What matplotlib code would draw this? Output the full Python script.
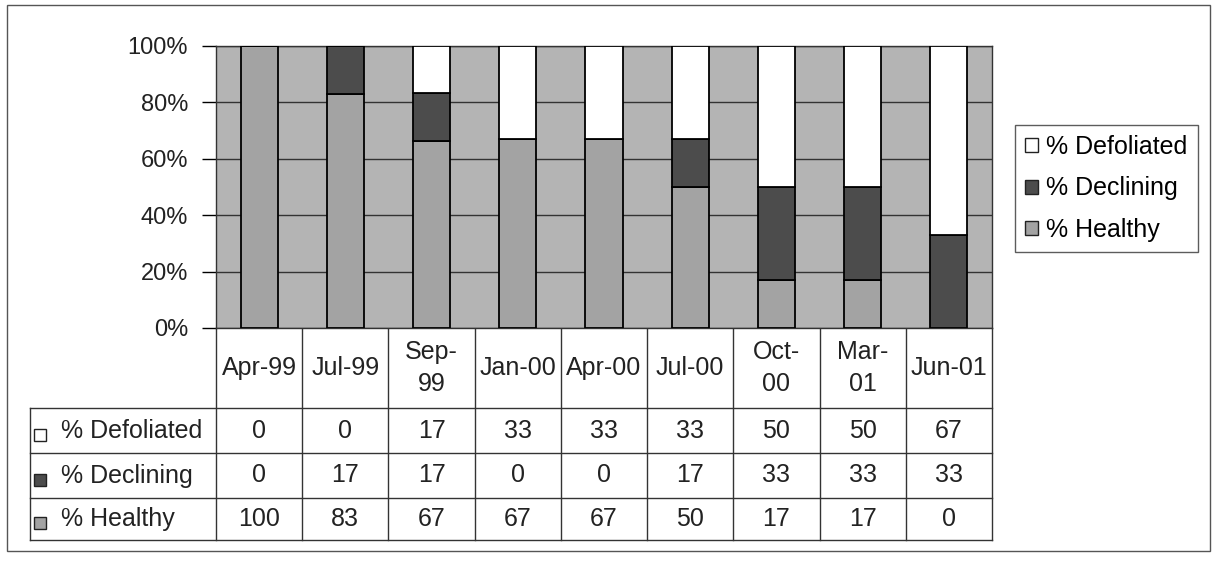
import matplotlib.pyplot as plt
from matplotlib.patches import Rectangle, Patch

plt.rcParams['font.family'] = ['Liberation Sans', 'DejaVu Sans']

dates = ['Apr-99', 'Jul-99', 'Sep-\n99', 'Jan-00', 'Apr-00', 'Jul-00', 'Oct-\n00', 'Mar-\n01', 'Jun-01']
defoliated = [0, 0, 17, 33, 33, 33, 50, 50, 67]
declining = [0, 17, 17, 0, 0, 17, 33, 33, 33]
healthy = [100, 83, 67, 67, 67, 50, 17, 17, 0]
series_names = ['% Defoliated', '% Declining', '% Healthy']
yticks = [0, 20, 40, 60, 80, 100]

c_bg = '#b4b4b4'
c_healthy = '#a3a3a3'
c_declining = '#4c4c4c'
c_defol = 'white'
fs = 18
fs_tick = 17

W, H = 1215, 563
fig = plt.figure(figsize=(W / 100, H / 100), dpi=100)

# overlay axes in image pixel coords (y down)
ax_t = fig.add_axes([0, 0, 1, 1])
ax_t.set_xlim(0, W)
ax_t.set_ylim(H, 0)
ax_t.axis('off')

# plot area
ax = fig.add_axes([216 / W, (H - 328) / H, (992 - 216) / W, (328 - 46) / H])
ax.set_facecolor(c_bg)
n = len(dates)
x = list(range(n))
tot = [a + b + c for a, b, c in zip(healthy, declining, defoliated)]
h_pct = [100 * v / t for v, t in zip(healthy, tot)]
d_pct = [100 * v / t for v, t in zip(declining, tot)]
f_pct = [100 * v / t for v, t in zip(defoliated, tot)]
bot2 = h_pct
bot3 = [a + b for a, b in zip(h_pct, d_pct)]
bw = 0.43
ax.bar(x, h_pct, bw, color=c_healthy, edgecolor='black', lw=1.3, zorder=3)
ax.bar(x, d_pct, bw, bottom=bot2, color=c_declining, edgecolor='black', lw=1.3, zorder=3)
ax.bar(x, f_pct, bw, bottom=bot3, color=c_defol, edgecolor='black', lw=1.3, zorder=3)
ax.set_xlim(-0.5, n - 0.5)
ax.set_ylim(0, 100)
ax.set_yticks(yticks)
ax.set_yticklabels([f'{t}%' for t in yticks], fontsize=fs_tick, color='#222222')
ax.tick_params(axis='y', length=10, width=1, pad=10)
ax.set_xticks([])
ax.yaxis.grid(True, color='#333333', lw=1)
ax.set_axisbelow(True)
for s in ax.spines.values():
    s.set_color('#333333')
    s.set_linewidth(1)

# table under the plot
def px(xd):
    return ax.transData.transform((xd, 0))[0]

y_axis_bot = 328
rows_y = [408, 453, 498, 540]
x_left_lab = 30
x_right = px(n - 0.5)
lc = '#333333'
for k in range(n + 1):
    xx = px(k - 0.5)
    ax_t.plot([xx, xx], [y_axis_bot, rows_y[-1]], color=lc, lw=1)
ax_t.plot([x_left_lab, x_left_lab], [rows_y[0], rows_y[-1]], color=lc, lw=1)
for yy in rows_y:
    ax_t.plot([x_left_lab, x_right], [yy, yy], color=lc, lw=1)

for i, d in enumerate(dates):
    ax_t.text(px(i), (y_axis_bot + rows_y[0]) / 2, d, ha='center', va='center',
              fontsize=fs, color='#222222', linespacing=1.4)

table_vals = [defoliated, declining, healthy]
colors = [c_defol, c_declining, c_healthy]
for r, (name, vals, col) in enumerate(zip(series_names, table_vals, colors)):
    yc = (rows_y[r] + rows_y[r + 1]) / 2
    ax_t.add_patch(Rectangle((34, yc - 2), 12, 12, facecolor=col, edgecolor='#222222', lw=1))
    ax_t.text(61, yc, name, ha='left', va='center', fontsize=fs, color='#222222')
    for i, v in enumerate(vals):
        ax_t.text(px(i), yc, str(v), ha='center', va='center', fontsize=fs, color='#222222')

# legend
handles = [Patch(facecolor=c, edgecolor='#222222', lw=1) for c in colors]
fig.legend(handles, series_names, loc='upper left', bbox_to_anchor=(1015 / W, 1 - 125 / H),
           fontsize=fs, frameon=True, fancybox=False, edgecolor='#333333',
           handlelength=0.5, handleheight=0.5, handletextpad=0.35, labelspacing=0.7,
           borderpad=0.4, borderaxespad=0)

# outer chart border
ax_t.add_patch(Rectangle((7, 5), 1203, 546, fill=False, edgecolor='#555555', lw=1))

fig.savefig('out.png', dpi=100)
